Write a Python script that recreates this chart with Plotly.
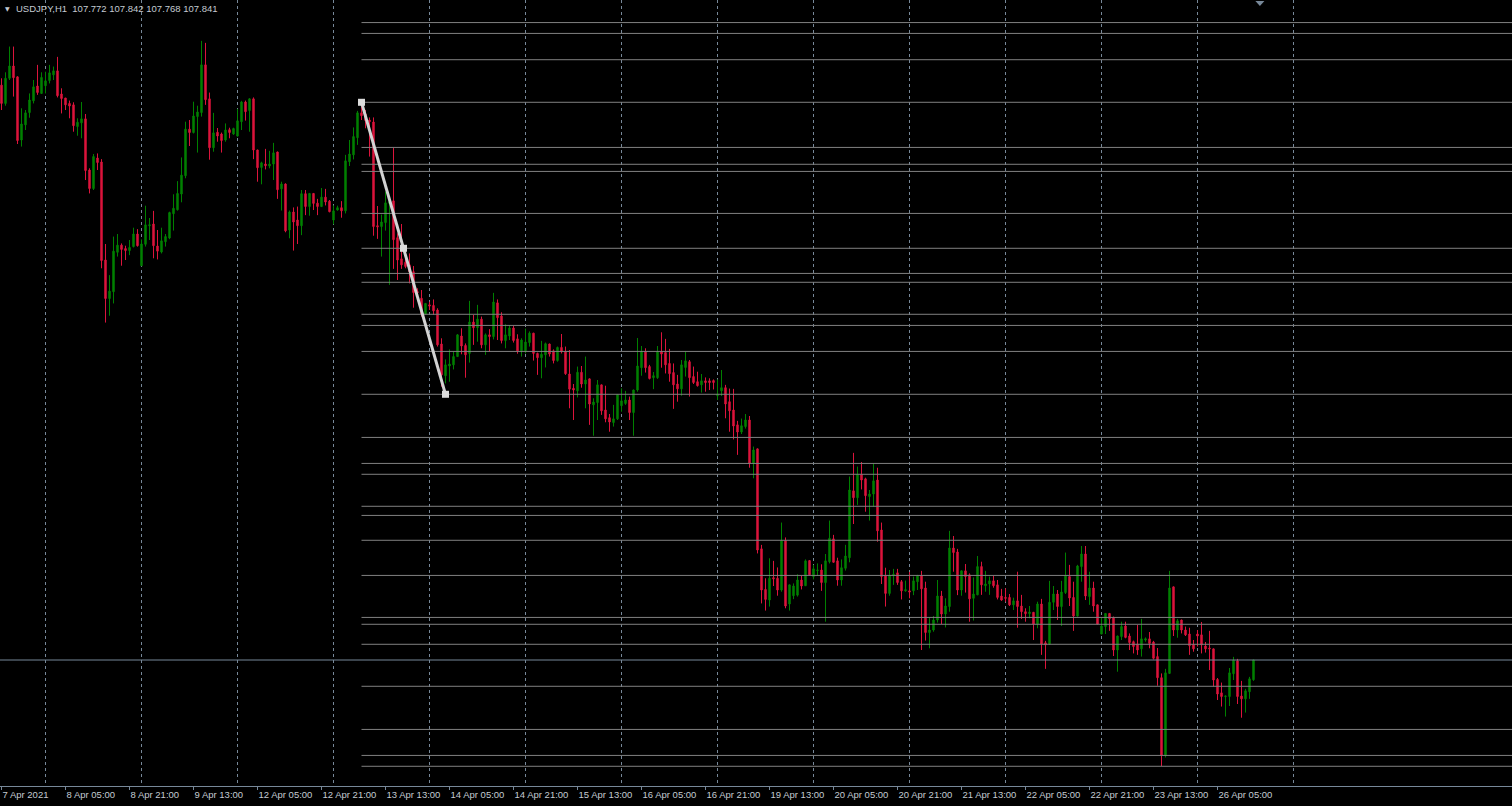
import plotly.graph_objects as go

# ---------------- data (USDJPY, H1) ----------------
bar_open = [
    109.853, 109.789, 109.877, 109.920, 109.882, 109.661, 109.714, 109.757, 109.798, 109.850,
    109.824, 109.851, 109.869, 109.889, 109.903, 109.822, 109.808, 109.789, 109.784, 109.708,
    109.721, 109.735, 109.556, 109.491, 109.598, 109.584, 109.241, 109.106, 109.130, 109.268,
    109.293, 109.281, 109.274, 109.288, 109.332, 109.221, 109.296, 109.361, 109.367, 109.290,
    109.269, 109.305, 109.318, 109.403, 109.417, 109.472, 109.536, 109.699, 109.687, 109.743,
    109.757, 109.924, 109.805, 109.634, 109.688, 109.682, 109.661, 109.697, 109.682, 109.675,
    109.725, 109.794, 109.764, 109.805, 109.626, 109.565, 109.577, 109.570, 109.577, 109.619,
    109.490, 109.507, 109.346, 109.409, 109.381, 109.361, 109.473, 109.428, 109.474, 109.440,
    109.428, 109.461, 109.447, 109.381, 109.416, 109.424, 109.413, 109.585, 109.609, 109.669,
    109.756, 109.752, 109.731, 109.724, 109.361, 109.358, 109.372, 109.439, 109.448, 109.319,
    109.245, 109.233, 109.224, 109.200, 109.130, 109.107, 109.052, 109.084, 109.082, 109.066,
    108.947, 108.836, 108.870, 108.874, 108.903, 108.975, 108.942, 108.914, 109.024, 109.004,
    109.034, 108.944, 108.979, 108.973, 109.091, 109.045, 108.959, 108.975, 109.003, 108.965,
    108.923, 108.923, 108.952, 108.985, 108.914, 108.899, 108.909, 108.947, 108.923, 108.889,
    108.935, 108.920, 108.842, 108.792, 108.783, 108.848, 108.807, 108.825, 108.734, 108.742,
    108.804, 108.716, 108.689, 108.672, 108.685, 108.731, 108.739, 108.751, 108.707, 108.786,
    108.864, 108.921, 108.868, 108.829, 108.829, 108.920, 108.917, 108.879, 108.847, 108.807,
    108.790, 108.865, 108.885, 108.833, 108.815, 108.804, 108.818, 108.818, 108.819, 108.766,
    108.783, 108.794, 108.745, 108.716, 108.664, 108.639, 108.658, 108.681, 108.529, 108.580,
    108.230, 108.088, 108.051, 108.129, 108.127, 108.086, 108.259, 108.037, 108.066, 108.068,
    108.121, 108.101, 108.189, 108.133, 108.154, 108.156, 108.112, 108.185, 108.265, 108.188,
    108.121, 108.162, 108.199, 108.433, 108.409, 108.491, 108.475, 108.413, 108.422, 108.471,
    108.296, 108.136, 108.074, 108.136, 108.146, 108.115, 108.083, 108.083, 108.083, 108.115,
    108.135, 108.093, 107.937, 107.946, 107.981, 108.065, 108.002, 108.028, 108.233, 108.219,
    108.086, 108.153, 108.139, 108.057, 108.069, 108.168, 108.101, 108.107, 108.118, 108.104,
    108.065, 108.060, 108.060, 108.034, 108.048, 108.030, 108.010, 108.003, 108.008, 107.967,
    108.037, 107.901, 107.897, 108.043, 108.072, 108.028, 108.077, 108.133, 108.060, 107.995,
    108.168, 108.212, 108.063, 108.093, 108.034, 107.932, 107.958, 108.004, 107.990, 107.876,
    107.923, 107.960, 107.925, 107.905, 107.897, 107.880, 107.911, 107.915, 107.904, 107.853,
    107.779, 107.507, 107.794, 108.097, 107.946, 107.981, 107.946, 107.932, 107.895, 107.932,
    107.929, 107.890, 107.883, 107.880, 107.773, 107.726, 107.713, 107.713, 107.793, 107.838,
    107.715, 107.705, 107.730, 107.772,
]
bar_high = [
    109.877, 109.898, 109.988, 109.988, 109.884, 109.772, 109.766, 109.824, 109.871, 109.924,
    109.898, 109.900, 109.924, 109.918, 109.952, 109.842, 109.808, 109.799, 109.793, 109.737,
    109.794, 109.752, 109.562, 109.612, 109.614, 109.594, 109.297, 109.188, 109.323, 109.332,
    109.299, 109.291, 109.311, 109.354, 109.349, 109.313, 109.431, 109.388, 109.413, 109.346,
    109.354, 109.332, 109.410, 109.471, 109.517, 109.600, 109.725, 109.731, 109.795, 109.781,
    110.008, 110.001, 109.827, 109.756, 109.703, 109.687, 109.719, 109.704, 109.704, 109.770,
    109.798, 109.799, 109.807, 109.810, 109.627, 109.585, 109.630, 109.623, 109.651, 109.620,
    109.515, 109.509, 109.414, 109.425, 109.428, 109.486, 109.486, 109.475, 109.475, 109.455,
    109.493, 109.490, 109.451, 109.432, 109.431, 109.447, 109.609, 109.661, 109.705, 109.763,
    109.781, 109.766, 109.740, 109.740, 109.430, 109.400, 109.480, 109.451, 109.634, 109.334,
    109.367, 109.253, 109.264, 109.220, 109.142, 109.136, 109.090, 109.095, 109.103, 109.072,
    108.967, 108.893, 108.928, 108.920, 108.982, 109.002, 108.949, 109.098, 109.049, 109.084,
    109.043, 108.984, 108.999, 109.126, 109.103, 109.058, 109.016, 109.011, 109.011, 108.981,
    108.967, 109.001, 108.991, 108.986, 108.917, 108.958, 108.952, 108.948, 108.928, 108.938,
    108.982, 108.938, 108.926, 108.807, 108.868, 108.870, 108.903, 108.826, 108.757, 108.821,
    108.805, 108.801, 108.702, 108.734, 108.772, 108.792, 108.783, 108.763, 108.787, 108.968,
    108.940, 108.932, 108.874, 108.849, 108.940, 108.988, 108.965, 108.930, 108.879, 108.839,
    108.891, 108.920, 108.891, 108.868, 108.850, 108.842, 108.830, 108.827, 108.823, 108.823,
    108.856, 108.804, 108.791, 108.790, 108.678, 108.686, 108.702, 108.695, 108.588, 108.581,
    108.244, 108.127, 108.197, 108.188, 108.165, 108.322, 108.270, 108.105, 108.109, 108.141,
    108.135, 108.193, 108.191, 108.174, 108.179, 108.176, 108.212, 108.329, 108.279, 108.199,
    108.193, 108.244, 108.483, 108.566, 108.518, 108.534, 108.479, 108.436, 108.529, 108.514,
    108.322, 108.164, 108.156, 108.160, 108.160, 108.121, 108.119, 108.149, 108.133, 108.139,
    108.153, 108.115, 107.990, 107.995, 108.121, 108.083, 108.057, 108.293, 108.275, 108.230,
    108.154, 108.177, 108.144, 108.130, 108.205, 108.185, 108.153, 108.133, 108.135, 108.121,
    108.090, 108.092, 108.072, 108.059, 108.150, 108.069, 108.022, 108.030, 108.009, 108.045,
    108.055, 107.908, 108.118, 108.100, 108.086, 108.118, 108.217, 108.174, 108.115, 108.174,
    108.240, 108.240, 108.150, 108.115, 108.035, 107.990, 108.005, 108.005, 107.993, 107.926,
    107.975, 107.975, 107.934, 107.909, 107.964, 107.985, 107.920, 107.939, 107.908, 107.883,
    107.794, 107.810, 108.153, 108.098, 107.985, 107.982, 107.958, 107.954, 107.911, 107.946,
    107.974, 107.904, 107.943, 107.881, 107.778, 107.762, 107.716, 107.813, 107.852, 107.845,
    107.768, 107.740, 107.782, 107.842,
]
bar_low = [
    109.766, 109.781, 109.871, 109.813, 109.647, 109.638, 109.696, 109.739, 109.789, 109.819,
    109.822, 109.824, 109.859, 109.871, 109.810, 109.754, 109.766, 109.737, 109.690, 109.676,
    109.667, 109.521, 109.474, 109.486, 109.556, 109.212, 109.022, 109.046, 109.089, 109.253,
    109.221, 109.241, 109.258, 109.285, 109.288, 109.220, 109.288, 109.311, 109.247, 109.243,
    109.264, 109.288, 109.314, 109.344, 109.414, 109.443, 109.527, 109.640, 109.684, 109.617,
    109.743, 109.784, 109.592, 109.620, 109.655, 109.617, 109.655, 109.667, 109.679, 109.673,
    109.696, 109.729, 109.690, 109.594, 109.515, 109.506, 109.558, 109.562, 109.521, 109.455,
    109.414, 109.338, 109.317, 109.274, 109.297, 109.328, 109.398, 109.396, 109.416, 109.398,
    109.427, 109.432, 109.408, 109.366, 109.414, 109.389, 109.404, 109.570, 109.593, 109.644,
    109.731, 109.702, 109.603, 109.326, 109.315, 109.253, 109.344, 109.154, 109.210, 109.171,
    109.210, 109.212, 109.159, 109.074, 109.101, 109.043, 109.051, 109.066, 109.049, 108.938,
    108.798, 108.809, 108.815, 108.858, 108.902, 108.911, 108.829, 108.882, 108.944, 108.955,
    108.932, 108.909, 108.920, 108.963, 108.961, 108.949, 108.932, 108.961, 108.952, 108.913,
    108.903, 108.914, 108.938, 108.889, 108.839, 108.827, 108.865, 108.903, 108.879, 108.885,
    108.914, 108.839, 108.722, 108.681, 108.760, 108.794, 108.722, 108.664, 108.626, 108.681,
    108.699, 108.673, 108.640, 108.658, 108.681, 108.710, 108.734, 108.681, 108.626, 108.780,
    108.836, 108.847, 108.823, 108.789, 108.825, 108.864, 108.844, 108.815, 108.720, 108.745,
    108.766, 108.833, 108.763, 108.807, 108.798, 108.777, 108.780, 108.786, 108.788, 108.751,
    108.765, 108.687, 108.640, 108.613, 108.559, 108.632, 108.651, 108.514, 108.477, 108.214,
    108.039, 108.014, 108.028, 108.100, 108.066, 108.080, 108.022, 108.014, 108.054, 108.063,
    108.088, 108.100, 108.136, 108.123, 108.135, 108.083, 107.975, 108.179, 108.182, 108.101,
    108.101, 108.154, 108.183, 108.317, 108.384, 108.438, 108.360, 108.329, 108.378, 108.255,
    108.107, 108.028, 108.066, 108.104, 108.104, 108.053, 108.080, 108.057, 108.068, 108.086,
    107.876, 107.909, 107.882, 107.940, 107.972, 107.967, 107.955, 108.010, 108.150, 108.068,
    108.066, 108.077, 107.975, 107.979, 108.068, 108.069, 108.080, 108.069, 108.094, 108.053,
    108.048, 108.045, 108.030, 108.016, 107.954, 107.985, 107.975, 107.987, 107.911, 107.952,
    107.859, 107.810, 107.894, 108.016, 107.981, 107.960, 108.072, 108.030, 107.943, 107.993,
    108.115, 108.051, 108.034, 108.010, 107.966, 107.931, 107.932, 107.943, 107.855, 107.800,
    107.911, 107.917, 107.876, 107.864, 107.859, 107.853, 107.905, 107.882, 107.843, 107.751,
    107.470, 107.500, 107.793, 107.925, 107.919, 107.934, 107.925, 107.859, 107.870, 107.888,
    107.864, 107.867, 107.806, 107.748, 107.701, 107.678, 107.643, 107.680, 107.771, 107.687,
    107.639, 107.657, 107.705, 107.768,
]
bar_close = [
    109.789, 109.877, 109.920, 109.879, 109.659, 109.717, 109.756, 109.801, 109.847, 109.827,
    109.880, 109.868, 109.896, 109.903, 109.816, 109.806, 109.784, 109.780, 109.711, 109.723,
    109.735, 109.554, 109.491, 109.603, 109.582, 109.239, 109.106, 109.132, 109.272, 109.293,
    109.278, 109.274, 109.285, 109.332, 109.291, 109.297, 109.364, 109.364, 109.291, 109.272,
    109.308, 109.323, 109.407, 109.422, 109.474, 109.538, 109.699, 109.687, 109.745, 109.759,
    109.924, 109.802, 109.634, 109.686, 109.675, 109.659, 109.696, 109.687, 109.701, 109.728,
    109.794, 109.760, 109.805, 109.626, 109.564, 109.581, 109.571, 109.577, 109.616, 109.487,
    109.507, 109.343, 109.409, 109.374, 109.361, 109.473, 109.428, 109.474, 109.439, 109.428,
    109.461, 109.444, 109.410, 109.413, 109.424, 109.413, 109.588, 109.612, 109.673, 109.756,
    109.746, 109.729, 109.725, 109.358, 109.357, 109.374, 109.441, 109.445, 109.312, 109.241,
    109.224, 109.218, 109.200, 109.127, 109.127, 109.052, 109.089, 109.080, 109.063, 108.944,
    108.839, 108.874, 108.877, 108.903, 108.979, 108.940, 108.909, 109.024, 109.004, 109.034,
    108.944, 108.979, 108.973, 109.094, 109.039, 108.959, 108.979, 109.003, 108.959, 108.923,
    108.961, 108.954, 108.985, 108.914, 108.899, 108.911, 108.948, 108.912, 108.889, 108.935,
    108.920, 108.843, 108.789, 108.786, 108.848, 108.807, 108.821, 108.737, 108.744, 108.804,
    108.713, 108.685, 108.674, 108.685, 108.770, 108.748, 108.751, 108.707, 108.786, 108.870,
    108.921, 108.864, 108.826, 108.836, 108.920, 108.912, 108.874, 108.843, 108.804, 108.790,
    108.874, 108.888, 108.829, 108.812, 108.801, 108.818, 108.812, 108.812, 108.812, 108.772,
    108.794, 108.737, 108.713, 108.660, 108.639, 108.661, 108.681, 108.529, 108.576, 108.226,
    108.086, 108.053, 108.127, 108.125, 108.086, 108.259, 108.030, 108.104, 108.100, 108.121,
    108.100, 108.188, 108.139, 108.160, 108.156, 108.112, 108.188, 108.267, 108.183, 108.121,
    108.164, 108.205, 108.436, 108.409, 108.491, 108.471, 108.416, 108.422, 108.468, 108.293,
    108.133, 108.074, 108.136, 108.141, 108.112, 108.083, 108.087, 108.079, 108.118, 108.135,
    108.090, 107.937, 107.946, 107.981, 108.065, 108.002, 108.030, 108.233, 108.217, 108.086,
    108.153, 108.133, 108.055, 108.072, 108.168, 108.104, 108.107, 108.118, 108.101, 108.060,
    108.051, 108.057, 108.034, 108.048, 108.028, 108.010, 108.003, 108.009, 107.967, 108.037,
    107.897, 107.894, 108.043, 108.072, 108.028, 108.079, 108.135, 108.058, 107.995, 108.170,
    108.212, 108.065, 108.093, 108.030, 107.967, 107.960, 108.004, 107.985, 107.876, 107.925,
    107.958, 107.920, 107.902, 107.888, 107.876, 107.915, 107.915, 107.899, 107.847, 107.779,
    107.507, 107.796, 108.093, 107.946, 107.978, 107.946, 107.929, 107.891, 107.880, 107.925,
    107.894, 107.880, 107.880, 107.771, 107.722, 107.713, 107.715, 107.796, 107.840, 107.713,
    107.705, 107.733, 107.775, 107.841,
]
assert len(bar_open) == len(bar_high) == len(bar_low) == len(bar_close) == 314

# bar index of each axis label (one every 16 hourly bars) and its text
label_idx = [0, 16, 32, 48, 64, 80, 96, 112, 128, 144, 160, 176, 192, 208, 224, 240, 256, 272, 288, 304]
label_text = ["7 Apr 2021", "8 Apr 05:00", "8 Apr 21:00", "9 Apr 13:00", "12 Apr 05:00",
              "12 Apr 21:00", "13 Apr 13:00", "14 Apr 05:00", "14 Apr 21:00", "15 Apr 13:00",
              "16 Apr 05:00", "16 Apr 21:00", "19 Apr 13:00", "20 Apr 05:00", "20 Apr 21:00",
              "21 Apr 13:00", "22 Apr 05:00", "22 Apr 21:00", "23 Apr 13:00", "26 Apr 05:00"]
# bar index of each day start (vertical grid)
day_idx = [11, 35, 59, 83, 107, 131, 155, 179, 203, 227, 251, 275, 299, 323]

# horizontal price levels drawn from the trendline start to the right
level_prices = [110.072, 110.034, 109.942, 109.793, 109.635, 109.576, 109.551, 109.404,
                109.282, 109.194, 109.163, 109.051, 109.012, 108.921, 108.771, 108.620,
                108.529, 108.491, 108.379, 108.347, 108.260, 108.137, 107.990, 107.966,
                107.896, 107.749, 107.598, 107.507, 107.469]
# trendline: start bar, middle, end bar and prices
trend_idx = [90, 100.5, 111]
trend_prices = [109.793, 109.282, 108.771]
bid_price = 107.841
symbol_text = "USDJPY,H1  107.772 107.842 107.768 107.841"
shift_marker_idx = 314.6

# ---------------- styling ----------------
BG = "#000000"
BULL = "#008000"
BEAR = "#dc143c"
GRID = "#778899"
LEVEL = "#808080"
TREND = "#d3d3d3"
TEXT = "#c4cbd2"
FONT = "Liberation Sans"

x_range = [-0.375, 377.625]
y_range = [107.400, 110.151]

fig = go.Figure()

# horizontal levels
lx, ly = [], []
for p in level_prices:
    lx += [trend_idx[0], x_range[1] + 2, None]
    ly += [p, p, None]
fig.add_trace(go.Scatter(x=lx, y=ly, mode="lines", line=dict(color=LEVEL, width=1),
                         hoverinfo="skip", showlegend=False))

fig.add_trace(go.Candlestick(
    x=list(range(len(bar_open))), open=bar_open, high=bar_high, low=bar_low, close=bar_close,
    increasing=dict(line=dict(color=BULL, width=1), fillcolor=BULL),
    decreasing=dict(line=dict(color=BEAR, width=1), fillcolor=BEAR),
    whiskerwidth=0, hoverinfo="skip", showlegend=False))

# trendline with anchor squares
fig.add_trace(go.Scatter(x=[trend_idx[0], trend_idx[-1]], y=[trend_prices[0], trend_prices[-1]],
                         mode="lines", line=dict(color=TREND, width=3),
                         hoverinfo="skip", showlegend=False))
fig.add_trace(go.Scatter(x=trend_idx, y=trend_prices, mode="markers",
                         marker=dict(symbol="square", size=7, color="#dcdcdc", line=dict(width=0)),
                         hoverinfo="skip", showlegend=False))

# dummy trace for the label axis
fig.add_trace(go.Scatter(x=[label_idx[0]], y=[None], xaxis="x2", mode="markers",
                         hoverinfo="skip", showlegend=False))

# bid line
fig.add_shape(type="line", xref="paper", x0=0, x1=1, yref="y", y0=bid_price, y1=bid_price,
              line=dict(color=GRID, width=1), layer="above")

# shift marker at top
fig.add_shape(type="path", xref="x", xsizemode="pixel", xanchor=shift_marker_idx,
              yref="paper", ysizemode="pixel", yanchor=1,
              path="M -4.5,-1 L 4.5,-1 L 0,-6 Z", fillcolor=GRID, line=dict(width=0), layer="above")

# symbol caption
fig.add_annotation(xref="paper", yref="paper", x=0, y=1, xanchor="left", yanchor="top",
                   xshift=3, yshift=-3, showarrow=False, text="\u25BC",
                   font=dict(family="DejaVu Sans", size=6, color=TEXT))
fig.add_annotation(xref="paper", yref="paper", x=0, y=1, xanchor="left", yanchor="top",
                   xshift=14, yshift=-1, showarrow=False, text=symbol_text,
                   font=dict(family=FONT, size=9.5, color=TEXT))

fig.update_layout(
    width=1512, height=806, autosize=False,
    margin=dict(l=0, r=0, t=0, b=20, pad=0),
    paper_bgcolor=BG, plot_bgcolor=BG,
    boxgap=0.5,
    showlegend=False,
    hovermode=False,
    xaxis=dict(range=x_range, tickmode="array", tickvals=day_idx, showticklabels=False, ticks="",
               showgrid=True, gridcolor=GRID, gridwidth=1, griddash="3px,3px",
               zeroline=False, showline=False, rangeslider=dict(visible=False), fixedrange=True),
    xaxis2=dict(overlaying="x", matches="x", anchor="y", side="bottom", range=x_range,
                tickmode="array", tickvals=label_idx, ticktext=label_text,
                ticks="outside", ticklen=3, tickwidth=1, tickcolor=GRID,
                ticklabelposition="outside right",
                tickfont=dict(family=FONT, size=9.5, color=TEXT),
                showgrid=False, zeroline=False, showline=True, linecolor=GRID, linewidth=1,
                mirror=True, fixedrange=True),
    yaxis=dict(range=y_range, showticklabels=False, ticks="", showgrid=False, zeroline=False,
               showline=True, linecolor=GRID, linewidth=1, fixedrange=True),
)

fig.write_html("out.html", config={"displayModeBar": False},
               post_script="document.body.style.margin='0';document.body.style.overflow='hidden';")
